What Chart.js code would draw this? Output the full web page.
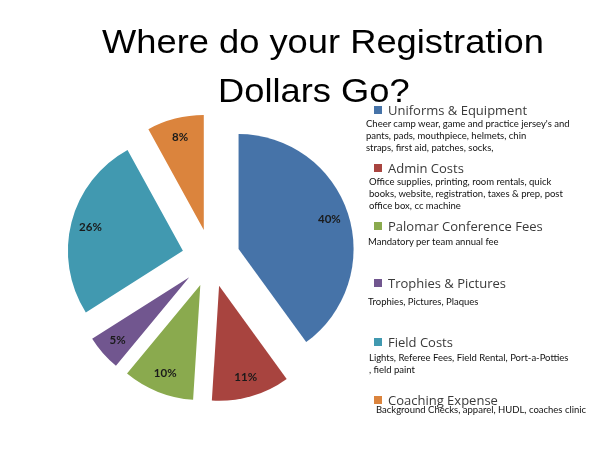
<!DOCTYPE html>
<html>
<head>
<meta charset="utf-8">
<script src="https://cdn.jsdelivr.net/npm/chart.js@4.4.1/dist/chart.umd.min.js"></script>
<style>
  html, body { margin: 0; padding: 0; background: #fff; }
  #page { position: relative; width: 600px; height: 450px; overflow: hidden; }
  #pieCanvas { position: absolute; left: 0; top: 0; }
  .title { position: absolute; font-family: "Liberation Sans", Arial, sans-serif; font-size: 33px;
           line-height: 33px; color: #000; white-space: nowrap; transform: scaleX(1.1); transform-origin: left top; }
  .lg-head { position: absolute; left: 374px; font-family: "Open Sans", sans-serif; font-size: 13px;
             line-height: 16px; color: #3a3a3a; white-space: nowrap; }
  .lg-head span.box { display: inline-block; width: 8px; height: 8px; margin-right: 6px; vertical-align: 1px; }
  .lg-desc { position: absolute; font-family: Lato, sans-serif; font-size: 9.5px; line-height: 12px;
             color: #111; white-space: nowrap; }
</style>
</head>
<body>
<div id="page">
  <canvas id="pieCanvas" width="600" height="450"></canvas>
  <div class="title" style="left:102px; top:25px;">Where do your Registration</div>
  <div class="title" style="left:218px; top:74px;">Dollars Go?</div>
  <div id="legend"></div>
</div>
<script>
// 데이터
const categories = ['Uniforms & Equipment', 'Admin Costs', 'Palomar Conference Fees',
                    'Trophies & Pictures', 'Field Costs', 'Coaching Expense'];
const percents = [40, 11, 10, 5, 26, 8];
const descriptions = [
  ["Cheer camp wear, game and practice jersey's and", 'pants, pads, mouthpiece, helmets,  chin', 'straps, first aid, patches, socks,'],
  ['Office supplies, printing, room rentals, quick', 'books, website, registration, taxes & prep, post', 'office box, cc machine'],
  ['Mandatory per team annual fee'],
  ['Trophies, Pictures, Plaques'],
  ['Lights, Referee Fees, Field Rental, Port-a-Potties', ', field paint'],
  ['Background Checks, apparel, HUDL, coaches clinic']
];

const sliceColors = ['#4673a8', '#a8443f', '#8aaa4e', '#71568f', '#4199b0', '#db843d'];

// 조각 분리 거리
const EXPLODE = 29;

// 범례 위치
const headTops = [102, 160, 218, 275, 334, 392];
const descTops = [118, 176, 236, 296, 352, 404];
const descLefts = [366, 369, 368, 368, 369, 376];

// 범례 만들기
const legend = document.getElementById('legend');
categories.forEach((name, i) => {
    const head = document.createElement('div');
    head.className = 'lg-head';
    head.style.top = headTops[i] + 'px';
    head.innerHTML = '<span class="box" style="background:' + sliceColors[i] + '"></span>';
    head.appendChild(document.createTextNode(name));
    legend.appendChild(head);

    const desc = document.createElement('div');
    desc.className = 'lg-desc';
    desc.style.top = descTops[i] + 'px';
    desc.style.left = descLefts[i] + 'px';
    desc.innerHTML = descriptions[i].map(t => t.replace(/&/g, '&amp;')).join('<br>');
    legend.appendChild(desc);
});

// 조각을 중심에서 밀어내서 그리기
const explodedPie = {
    id: 'explodedPie',
    beforeDatasetDraw(chart, args) {
        const ctx = chart.ctx;
        args.meta.data.forEach(arc => {
            const mid = (arc.startAngle + arc.endAngle) / 2;
            ctx.save();
            ctx.translate(Math.cos(mid) * EXPLODE, Math.sin(mid) * EXPLODE);
            arc.draw(ctx);
            ctx.restore();
        });
        return false;
    }
};

// 퍼센트 라벨 플러그인
const percentLabels = {
    id: 'percentLabels',
    afterDatasetsDraw(chart) {
        const ctx = chart.ctx;
        const meta = chart.getDatasetMeta(0);
        ctx.save();
        ctx.font = 'bold 11.5px Lato, sans-serif';
        ctx.fillStyle = '#1a1a1a';
        ctx.textAlign = 'center';
        ctx.textBaseline = 'middle';
        meta.data.forEach((arc, i) => {
            const p = arc.getProps(['x', 'y', 'startAngle', 'endAngle', 'outerRadius'], true);
            const mid = (p.startAngle + p.endAngle) / 2;
            const d = EXPLODE + p.outerRadius * 0.83;
            ctx.fillText(percents[i] + '%', p.x + Math.cos(mid) * d, p.y + Math.sin(mid) * d);
        });
        ctx.restore();
    }
};

new Chart(document.getElementById('pieCanvas').getContext('2d'), {
    type: 'pie',
    data: {
        labels: categories,
        datasets: [{
            data: percents,
            backgroundColor: sliceColors,
            borderWidth: 0,
            hoverOffset: 0
        }]
    },
    options: {
        responsive: false,
        animation: false,
        radius: 115,
        layout: { padding: { left: 61, top: 108, right: 239, bottom: 42 } },
        plugins: {
            legend: { display: false },
            tooltip: { enabled: false }
        }
    },
    plugins: [explodedPie, percentLabels]
});
</script>
</body>
</html>
